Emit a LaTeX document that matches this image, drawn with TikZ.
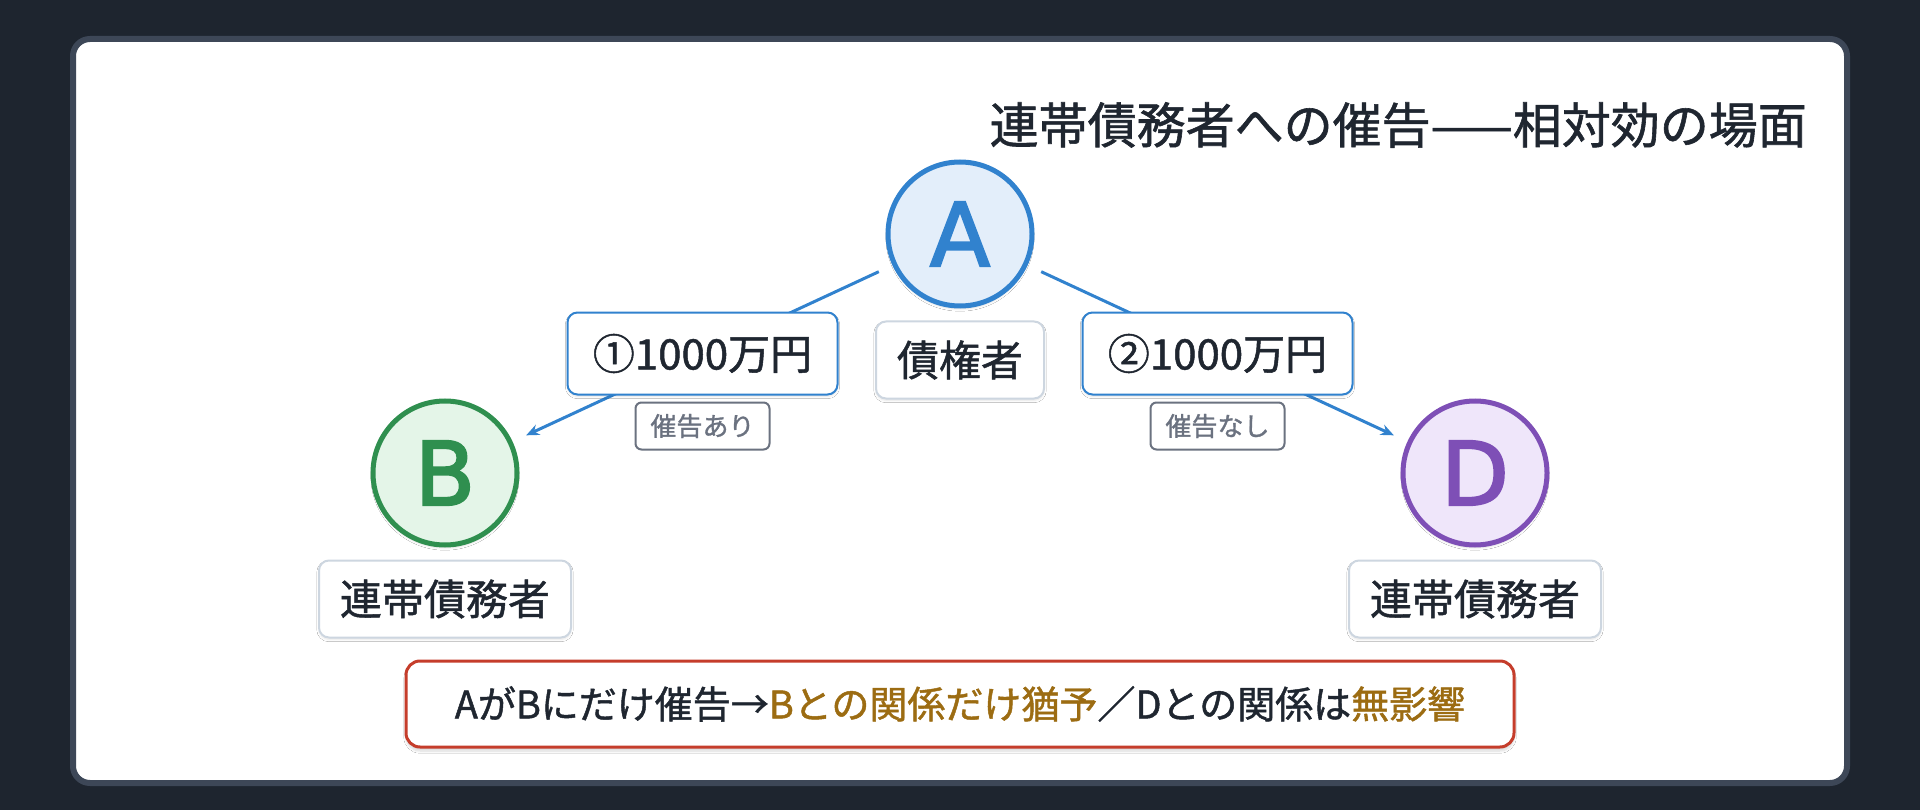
\documentclass[tikz,border=0pt]{standalone}
\usepackage{fontspec}
\setmainfont{Noto Sans CJK JP}[FakeBold=1.2]
\newfontfamily\letterfont{DejaVu Sans}[FakeBold=2.5]
\usetikzlibrary{positioning,arrows.meta,shadows.blur}
\definecolor{bgdark}{HTML}{1E252F}
\definecolor{frame}{HTML}{3D4757}
\definecolor{ink}{HTML}{1F2630}
\definecolor{blueA}{HTML}{3182CE}
\definecolor{fillA}{HTML}{E3EEFA}
\definecolor{greenB}{HTML}{2F8F4F}
\definecolor{fillB}{HTML}{E4F5E8}
\definecolor{purpleD}{HTML}{7E4FB6}
\definecolor{fillD}{HTML}{EFE6FA}
\definecolor{tagline}{HTML}{6B7280}
\definecolor{boxline}{HTML}{CDD6E0}
\definecolor{noteline}{HTML}{C53D2B}
\definecolor{gold}{HTML}{9C6C12}
\newcommand{\hl}[1]{\textcolor{gold}{#1}}
\newcommand{\fs}[1]{\fontsize{#1}{#1}\selectfont}
\tikzset{
  party/.style={circle,line width=5pt,minimum size=144pt,inner sep=0pt,
    blur shadow={shadow xshift=0pt,shadow yshift=-3pt,shadow opacity=12,shadow blur steps=6},
    font=\letterfont\fs{88}},
  role/.style={draw=boxline,line width=2pt,fill=white,rounded corners=10pt,
    minimum height=77pt,inner xsep=21pt,text=ink,font=\fs{42},
    blur shadow={shadow xshift=0pt,shadow yshift=-2pt,shadow opacity=10,shadow blur steps=5}},
  amount/.style={draw=blueA,line width=2pt,fill=white,rounded corners=10pt,
    minimum width=270pt,minimum height=82pt,text=ink,font=\fs{42},
    blur shadow={shadow xshift=0pt,shadow yshift=-2pt,shadow opacity=10,shadow blur steps=5}},
  tag/.style={draw=tagline,line width=2pt,fill=white,rounded corners=6pt,
    minimum width=134pt,minimum height=47pt,text=tagline,font=\fs{26}},
  link/.style={draw=blueA,line width=3pt,shorten <=15pt,shorten >=15pt,
    -{Stealth[length=13pt,width=11pt]}},
  note/.style={draw=noteline,line width=3pt,fill=white,rounded corners=14pt,
    minimum width=1108pt,minimum height=86pt,text=ink,font=\fs{38},
    blur shadow={shadow xshift=0pt,shadow yshift=-4pt,shadow opacity=15,shadow blur steps=8}}
}
\begin{document}
\begin{tikzpicture}[x=1pt,y=-1pt]
  \fill[bgdark] (0,0) rectangle (1920,810);
  \useasboundingbox (0,0) rectangle (1920,810);
  \draw[frame,line width=6pt,fill=white,rounded corners=17pt] (73,39) rectangle (1847,783);

  \node[anchor=east,inner sep=0pt,text=ink,font=\fs{49}] (title) at (1807,125) {連帯債務者への催告——相対効の場面};

  \node[party,draw=blueA,fill=fillA,text=blueA] (A) at (960,234) {A};
  \node[party,draw=greenB,fill=fillB,text=greenB] (B) at (445,473) {B};
  \node[party,draw=purpleD,fill=fillD,text=purpleD] (D) at (1475,473) {D};

  \node[role,below=12pt of A] (cred) {債権者};
  \node[role,below=12pt of B] (debtB) {連帯債務者};
  \node[role,below=12pt of D] (debtD) {連帯債務者};

  \draw[link] (A) -- node[amount] (amt1) {①1000万円} (B);
  \draw[link] (A) -- node[amount] (amt2) {②1000万円} (D);
  \node[tag,below=6pt of amt1] (tag1) {催告あり};
  \node[tag,below=6pt of amt2] (tag2) {催告なし};

  \node[note] (res) at (960,704) {AがBにだけ催告→\hl{Bとの関係だけ猶予}／Dとの関係は\hl{無影響}};
\end{tikzpicture}
\end{document}
